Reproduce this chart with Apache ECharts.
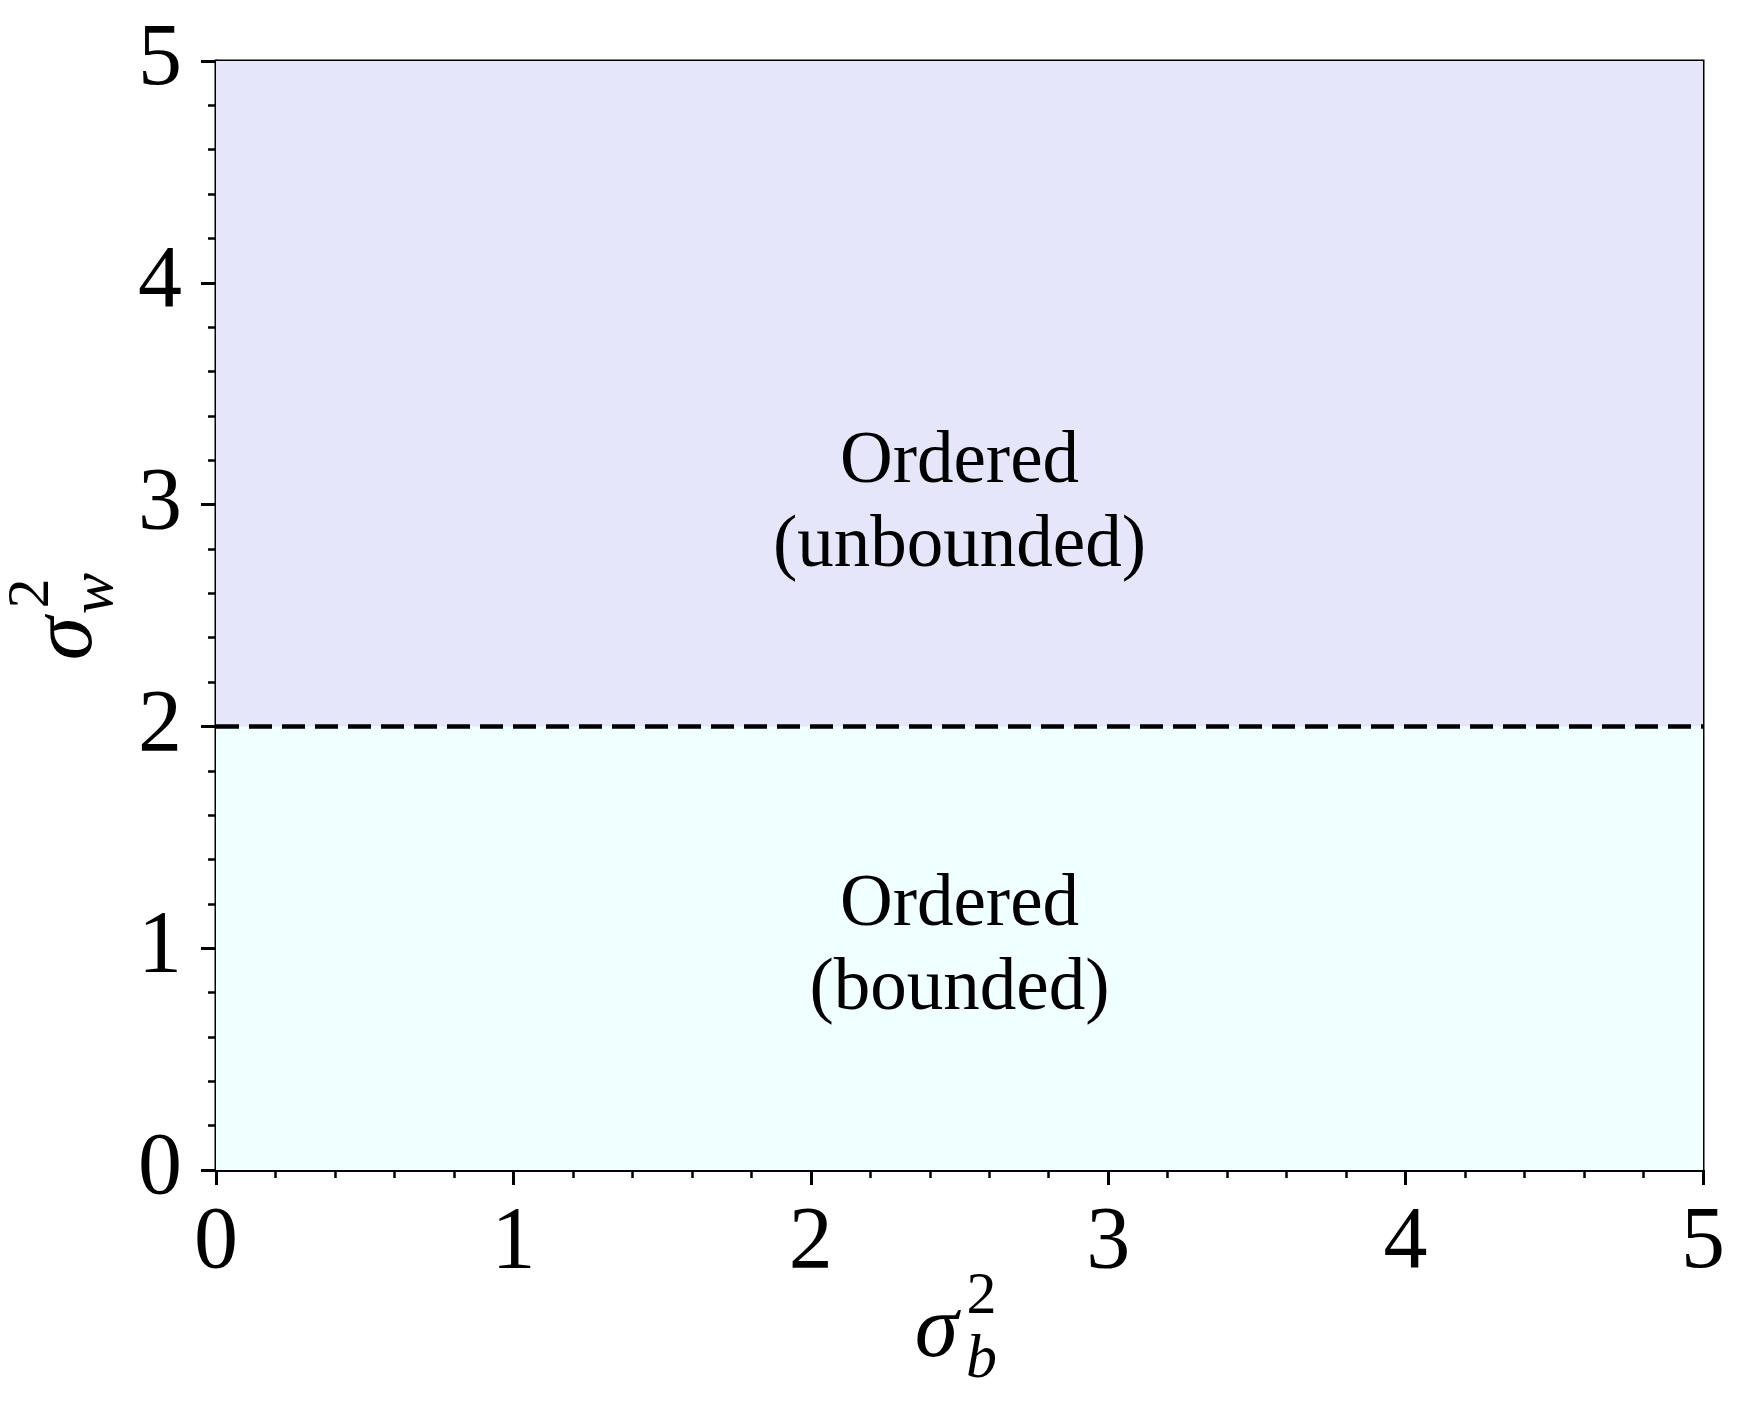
<!DOCTYPE html>
<html>
<head>
<meta charset="utf-8">
<script src="https://cdn.jsdelivr.net/npm/echarts@6/dist/echarts.min.js"></script>
<style>
html,body{margin:0;padding:0;background:#fff;}
#chart{width:1753px;height:1427px;}
</style>
</head>
<body>
<div id="chart"></div>
<script>
// ---- data ----
const xTicks = [0, 1, 2, 3, 4, 5];
const yTicks = [0, 1, 2, 3, 4, 5];
const regionYRanges = [[0, 2], [2, 5]];          // bounded, unbounded
const regionColors = ['#f0ffff', '#e6e6fa'];
const regionNames = ['Ordered\n(bounded)', 'Ordered\n(unbounded)'];
const regionLabelPoints = [[2.5, 1], [2.5, 3]];
const boundaryLine = [[0, 2], [5, 2]];

const FONT = '"Liberation Serif", "DejaVu Serif", serif';

const chart = echarts.init(document.getElementById('chart'), null, {renderer: 'canvas'});

const axisCommon = {
  type: 'value',
  interval: 1,
  splitLine: {show: false},
  axisLine: {show: true, onZero: false, lineStyle: {color: '#000', width: 3}},
  axisTick: {show: true, inside: false, length: 15, lineStyle: {color: '#000', width: 3}},
  minorTick: {show: true, splitNumber: 5, length: 8, lineStyle: {color: '#000', width: 2.5}},
  axisLabel: {color: '#000', fontFamily: FONT, fontSize: 88}
};

const option = {
  backgroundColor: '#fff',
  animation: false,
  grid: {left: 216, right: 50, top: 61, bottom: 257, show: true, borderColor: '#000', borderWidth: 3, backgroundColor: 'transparent'},
  xAxis: Object.assign({}, axisCommon, {
    min: xTicks[0], max: xTicks[xTicks.length - 1],
    axisLabel: Object.assign({}, axisCommon.axisLabel, {margin: 30})
  }),
  yAxis: Object.assign({}, axisCommon, {
    min: yTicks[0], max: yTicks[yTicks.length - 1],
    axisLabel: Object.assign({}, axisCommon.axisLabel, {margin: 34})
  }),
  series: [
    {
      type: 'line',
      name: 'regions',
      data: [],
      z: 1,
      markArea: {
        silent: true,
        itemStyle: {borderWidth: 0},
        data: regionYRanges.map((r, i) => [
          {xAxis: xTicks[0], yAxis: r[0], itemStyle: {color: regionColors[i]}},
          {xAxis: xTicks[xTicks.length - 1], yAxis: r[1]}
        ])
      }
    },
    {
      type: 'line',
      name: 'boundary',
      data: boundaryLine,
      symbol: 'none',
      z: 3,
      lineStyle: {color: '#000', width: 4.5, type: [23, 10], opacity: 1}
    },
    {
      type: 'scatter',
      name: 'labels',
      z: 4,
      symbolSize: 0,
      itemStyle: {opacity: 1},
      data: regionLabelPoints.map((p, i) => ({value: p, name: regionNames[i]})),
      label: {
        show: true,
        position: 'inside',
        formatter: p => p.name,
        color: '#000',
        opacity: 1,
        textBorderWidth: 0,
        fontFamily: FONT,
        fontSize: 73,
        lineHeight: 84,
        align: 'center'
      }
    }
  ]
};

chart.setOption(option);

function axisNameGroup(sub, cx, cy, rot) {
  const st = (text, font) => ({text: text, font: font, fill: '#000', align: 'center', verticalAlign: 'middle', textAlign: 'center', textVerticalAlign: 'middle'});
  return {
    type: 'group',
    x: cx, y: cy,
    rotation: rot,
    children: [
      {type: 'text', x: -23, y: 0, style: st('σ', 'italic 88px ' + FONT)},
      {type: 'text', x: 22, y: -36, style: st('2', '60px ' + FONT)},
      {type: 'text', x: 22, y: 28, style: st(sub, 'italic 62px ' + FONT)}
    ]
  };
}

const pMid = chart.convertToPixel({gridIndex: 0}, [2.5, 2.5]);
const pBottom = chart.convertToPixel({gridIndex: 0}, [0, 0]);
chart.setOption({
  graphic: [
    axisNameGroup('b', pMid[0], pBottom[1] + 163, 0),
    axisNameGroup('w', 68, pMid[1], Math.PI / 2)
  ]
});
</script>
</body>
</html>
